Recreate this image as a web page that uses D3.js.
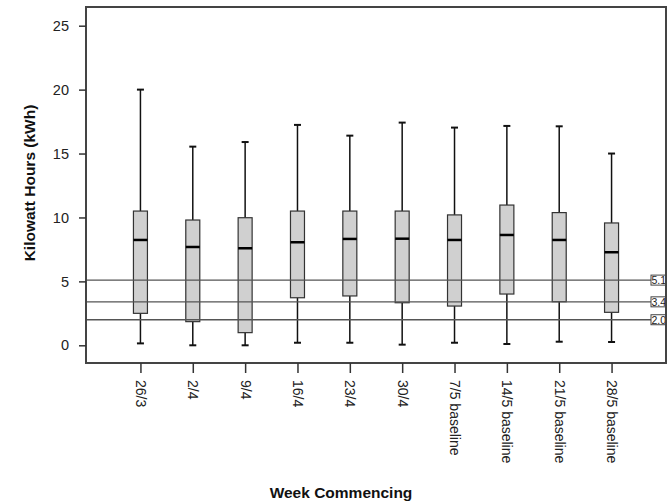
<!DOCTYPE html>
<html><head><meta charset="utf-8">
<script src="https://cdn.jsdelivr.net/npm/d3@7"></script>
<style>body{margin:0;background:#fff;} svg{display:block;font-family:"Liberation Sans",Arial,sans-serif;}</style>
</head><body><svg id="c" width="672" height="504"></svg>
<script>
const categories = ["26/3","2/4","9/4","16/4","23/4","30/4","7/5 baseline","14/5 baseline","21/5 baseline","28/5 baseline"];
const mins    = [0.15, 0.0, 0.0, 0.2, 0.2, 0.05, 0.2, 0.1, 0.28, 0.26];
const q1s     = [2.5, 1.85, 0.99, 3.72, 3.86, 3.33, 3.07, 4.01, 3.41, 2.58];
const medians = [8.24, 7.69, 7.59, 8.06, 8.32, 8.34, 8.24, 8.63, 8.24, 7.28];
const q3s     = [10.5, 9.8, 9.98, 10.5, 10.5, 10.5, 10.2, 10.97, 10.38, 9.57];
const maxs    = [20.0, 15.54, 15.9, 17.24, 16.4, 17.42, 17.03, 17.16, 17.13, 15.0];
const refLines = [5.1, 3.4, 2.0];
const refLabels = ["5.1", "3.4", "2.0"];
const yTicks = [0, 5, 10, 15, 20, 25];

const svg = d3.select("#c");
const L = 86, R = 666, T = 7, B = 363;
const y = d3.scaleLinear().domain([0, 25]).range([345.3, 25.7]);
const x = d3.scalePoint().domain(categories).range([L, R]).padding(1.04);
const bw = 14, cap = 7;
const FONT = "Liberation Sans, Arial, sans-serif";

svg.append("defs").append("clipPath").attr("id", "plotclip")
  .append("rect").attr("x", L).attr("y", T).attr("width", R - L).attr("height", B - T);

// boxes
const g = svg.append("g");
categories.forEach((c, i) => {
  const cx = x(c);
  g.append("line").attr("x1", cx).attr("x2", cx).attr("y1", y(q3s[i])).attr("y2", y(maxs[i])).attr("stroke", "#111").attr("stroke-width", 1.5);
  g.append("line").attr("x1", cx).attr("x2", cx).attr("y1", y(q1s[i])).attr("y2", y(mins[i])).attr("stroke", "#111").attr("stroke-width", 1.5);
  g.append("line").attr("x1", cx - cap/2).attr("x2", cx + cap/2).attr("y1", y(maxs[i])).attr("y2", y(maxs[i])).attr("stroke", "#111").attr("stroke-width", 2);
  g.append("line").attr("x1", cx - cap/2).attr("x2", cx + cap/2).attr("y1", y(mins[i])).attr("y2", y(mins[i])).attr("stroke", "#111").attr("stroke-width", 2);
  g.append("rect").attr("x", cx - bw/2).attr("width", bw).attr("y", y(q3s[i])).attr("height", y(q1s[i]) - y(q3s[i]))
    .attr("fill", "#d0d0d0").attr("stroke", "#333").attr("stroke-width", 1.2);
  g.append("line").attr("x1", cx - bw/2).attr("x2", cx + bw/2).attr("y1", y(medians[i])).attr("y2", y(medians[i])).attr("stroke", "#000").attr("stroke-width", 2.5);
});

// reference lines
const rg = svg.append("g").attr("clip-path", "url(#plotclip)");
refLines.forEach((v, i) => {
  rg.append("line").attr("x1", L).attr("x2", 651).attr("y1", y(v)).attr("y2", y(v)).attr("stroke", "#555").attr("stroke-width", 1.3);
  rg.append("rect").attr("x", 651).attr("y", y(v) - 5).attr("width", 15).attr("height", 10).attr("fill", "#fff").attr("stroke", "#444").attr("stroke-width", 1);
  rg.append("text").attr("x", 651.5).attr("y", y(v) + 4).attr("font-size", 10.5).attr("fill", "#222").attr("font-family", FONT).text(refLabels[i]);
});

// frame
svg.append("rect").attr("x", L).attr("y", T).attr("width", R - L).attr("height", B - T).attr("fill", "none").attr("stroke", "#444").attr("stroke-width", 2);

// y axis
const ya = svg.append("g").attr("transform", `translate(${L},0)`).call(d3.axisLeft(y).tickValues(yTicks).tickSize(7).tickPadding(10));
ya.select(".domain").remove();
ya.selectAll("line").attr("stroke", "#333").attr("stroke-width", 1.5);
ya.selectAll("text").attr("font-size", 14.5).attr("fill", "#222").attr("font-family", FONT);

// x axis
const xa = svg.append("g").attr("transform", `translate(0,${B})`).call(d3.axisBottom(x).tickSize(10).tickPadding(0));
xa.select(".domain").remove();
xa.selectAll("line").attr("stroke", "#333").attr("stroke-width", 1.5);
xa.selectAll("text").attr("font-size", 14).attr("fill", "#222").attr("font-family", FONT)
  .attr("text-anchor", "start").attr("dy", null).attr("y", 0)
  .attr("transform", "translate(-5,17) rotate(90)");

// titles
svg.append("text").attr("transform", "translate(35,183) rotate(-90)").attr("text-anchor", "middle")
  .attr("font-size", 15.5).attr("font-weight", "bold").attr("fill", "#111").attr("font-family", FONT).text("Kilowatt Hours (kWh)");
svg.append("text").attr("x", 341).attr("y", 498).attr("text-anchor", "middle")
  .attr("font-size", 15.5).attr("font-weight", "bold").attr("fill", "#111").attr("font-family", FONT).text("Week Commencing");
</script></body></html>
